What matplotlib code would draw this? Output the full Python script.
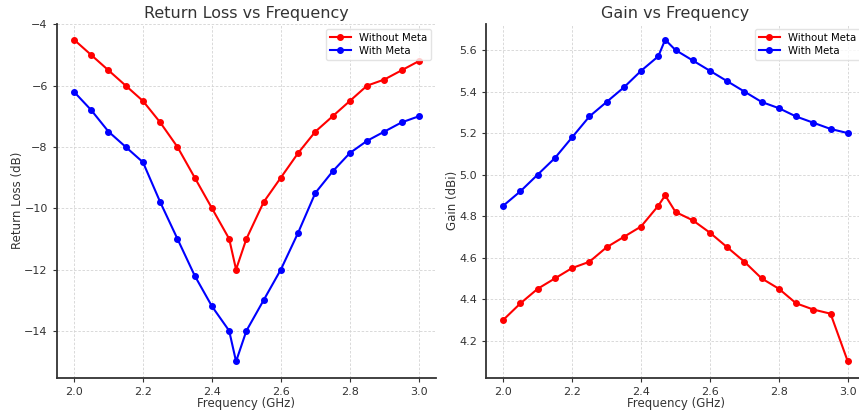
#return loss and gain of the antenna, with and without metasurface

import matplotlib
matplotlib.use("Agg")
import matplotlib.pyplot as plt

#----------------------------------------------------------------------------------

frequency = [2.0, 2.05, 2.1, 2.15, 2.2, 2.25, 2.3, 2.35, 2.4, 2.45, 2.47,
             2.5, 2.55, 2.6, 2.65, 2.7, 2.75, 2.8, 2.85, 2.9, 2.95, 3.0]

return_loss_without_meta = [-4.5, -5.0, -5.5, -6.0, -6.5, -7.2, -8.0, -9.0, -10.0, -11.0, -12.0,
                            -11.0, -9.8, -9.0, -8.2, -7.5, -7.0, -6.5, -6.0, -5.8, -5.5, -5.2]
return_loss_with_meta = [-6.2, -6.8, -7.5, -8.0, -8.5, -9.8, -11.0, -12.2, -13.2, -14.0, -15.0,
                         -14.0, -13.0, -12.0, -10.8, -9.5, -8.8, -8.2, -7.8, -7.5, -7.2, -7.0]

gain_without_meta = [4.30, 4.38, 4.45, 4.50, 4.55, 4.58, 4.65, 4.70, 4.75, 4.85, 4.90,
                     4.82, 4.78, 4.72, 4.65, 4.58, 4.50, 4.45, 4.38, 4.35, 4.33, 4.10]
gain_with_meta = [4.85, 4.92, 5.00, 5.08, 5.18, 5.28, 5.35, 5.42, 5.50, 5.57, 5.65,
                  5.60, 5.55, 5.50, 5.45, 5.40, 5.35, 5.32, 5.28, 5.25, 5.22, 5.20]

#----------------------------------------------------------------------------------

text_color = "#333333"

def style_axes(ax, title, ylabel):
    ax.set_title(title, fontsize = 11.5, color = text_color, pad = 4)
    ax.set_xlabel("Frequency (GHz)", fontsize = 8.5, color = text_color, labelpad = 0)
    ax.set_ylabel(ylabel, fontsize = 8.5, color = text_color, labelpad = 0)
    ax.grid(True, linestyle = (0, (3, 2)), linewidth = 0.6, color = "#d3d3d3")
    ax.set_axisbelow(True)
    for side in ["top", "right"]:
        ax.spines[side].set_visible(False)
    for side in ["left", "bottom"]:
        ax.spines[side].set_color("#333333")
        ax.spines[side].set_linewidth(1.3)
    ax.tick_params(labelsize = 8, colors = text_color, length = 3, width = 0.8)
    ax.legend(loc = "upper right", fontsize = 7.3, frameon = True, edgecolor = "#dddddd",
              handlelength = 2.0, borderpad = 0.4, labelspacing = 0.3)

fig = plt.figure(figsize = (8.59, 4.12), dpi = 100)
ax1 = fig.add_axes([0.0661, 0.0837, 0.4415, 0.859])
ax2 = fig.add_axes([0.5658, 0.0837, 0.4412, 0.859])

ax1.plot(frequency, return_loss_without_meta, color = "red", marker = "o", markersize = 4,
         linewidth = 1.5, label = "Without Meta")
ax1.plot(frequency, return_loss_with_meta, color = "blue", marker = "o", markersize = 4,
         linewidth = 1.5, label = "With Meta")
ax1.set_xticks([2.0, 2.2, 2.4, 2.6, 2.8, 3.0])
ax1.set_yticks([-14, -12, -10, -8, -6, -4])
style_axes(ax1, "Return Loss vs Frequency", "Return Loss (dB)")

ax2.plot(frequency, gain_without_meta, color = "red", marker = "o", markersize = 4,
         linewidth = 1.5, label = "Without Meta")
ax2.plot(frequency, gain_with_meta, color = "blue", marker = "o", markersize = 4,
         linewidth = 1.5, label = "With Meta")
ax2.set_xticks([2.0, 2.2, 2.4, 2.6, 2.8, 3.0])
style_axes(ax2, "Gain vs Frequency", "Gain (dBi)")

#----------------------------------------------------------------------------------

fig.savefig("out.png", dpi = 100)
